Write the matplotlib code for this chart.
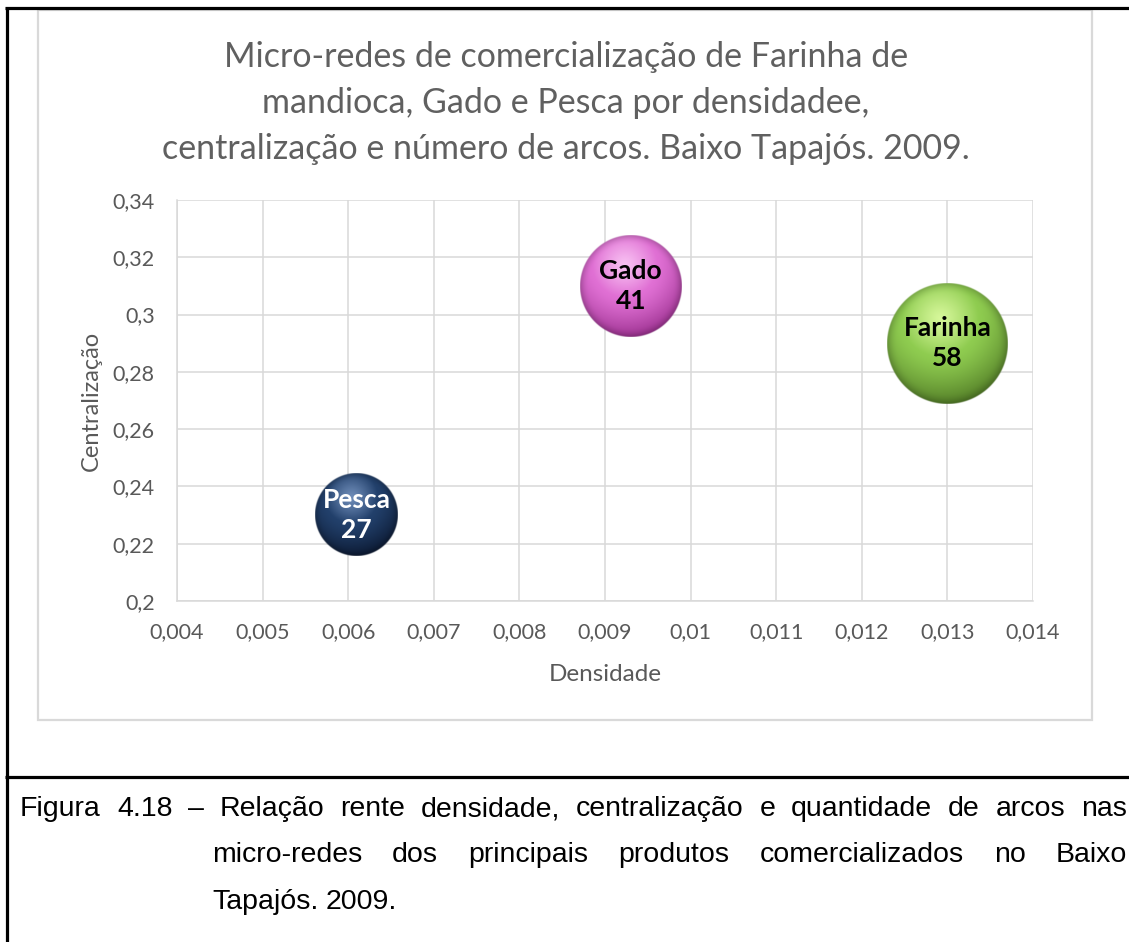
import numpy as np
import matplotlib
matplotlib.use("Agg")
import matplotlib.pyplot as plt
from matplotlib.lines import Line2D
from matplotlib.patches import Rectangle
from matplotlib import font_manager

# ---- data -------------------------------------------------------------
produtos = ["Pesca", "Gado", "Farinha"]
densidade = [0.0061, 0.0093, 0.0130]
centralizacao = [0.23, 0.31, 0.29]
arcos = [27, 41, 58]

x_ticks = [0.004, 0.005, 0.006, 0.007, 0.008, 0.009, 0.010, 0.011, 0.012, 0.013, 0.014]
x_tick_labels = ["0,004", "0,005", "0,006", "0,007", "0,008", "0,009", "0,01",
                 "0,011", "0,012", "0,013", "0,014"]
y_ticks = [0.20, 0.22, 0.24, 0.26, 0.28, 0.30, 0.32, 0.34]
y_tick_labels = ["0,2", "0,22", "0,24", "0,26", "0,28", "0,3", "0,32", "0,34"]

title_lines = [
    "Micro-redes de comercialização de Farinha de",
    "mandioca, Gado e Pesca por densidadee,",
    "centralização e número de arcos. Baixo Tapajós. 2009.",
]
x_label = "Densidade"
y_label = "Centralização"

caption_lines = [
    "Figura 4.18 – Relação rente densidade, centralização e quantidade de arcos nas",
    "micro-redes dos principais produtos comercializados no Baixo",
    "Tapajós. 2009.",
]

# ---- style ------------------------------------------------------------
W, H = 1129, 942
GRID = "#D9D9D9"
TXT = "#595959"
UI_FONT = ["Lato", "Open Sans", "DejaVu Sans"]


def pick_font(*names):
    for n in names:
        try:
            font_manager.findfont(n, fallback_to_default=False)
            return n
        except Exception:
            continue
    return "DejaVu Sans"


CAPTION_FONT = pick_font("Liberation Sans Narrow", "Liberation Sans")

# base, highlight and shadow colours of each bubble
bubble_colors = {
    "Pesca": ("#22406B", "#6E8CB8", "#0C1A33"),
    "Gado": ("#E070D4", "#F8C0F2", "#9E3392"),
    "Farinha": ("#8FCC50", "#D6F79A", "#547F28"),
}
label_colors = {"Pesca": "white", "Gado": "black", "Farinha": "black"}
MAX_DIAM_PX = 121.0

fig = plt.figure(figsize=(W / 100, H / 100), dpi=100)
fig.patch.set_facecolor("white")


def px(x, y):
    return x / W, 1 - y / H


# page frame lines
frame_kw = dict(color="black", lw=2.3, transform=fig.transFigure, solid_capstyle="butt")
fig.add_artist(Line2D([px(5, 0)[0], 1], [px(0, 8)[1]] * 2, **frame_kw))
fig.add_artist(Line2D([px(7, 0)[0]] * 2, [px(0, 7)[1], 0], **frame_kw))
fig.add_artist(Line2D([px(5, 0)[0], 1], [px(0, 777)[1]] * 2, **frame_kw))

# chart area border
x0, y0 = px(38, 720)
x1, y1 = px(1092, 10)
fig.add_artist(Rectangle((x0, y0), x1 - x0, y1 - y0, transform=fig.transFigure,
                         fill=False, edgecolor=GRID, lw=1.6))

# plot axes
left, bottom = px(177, 601)
right, top = px(1033, 200)
ax = fig.add_axes([left, bottom, right - left, top - bottom])
ax.set_xlim(x_ticks[0], x_ticks[-1])
ax.set_ylim(y_ticks[0], y_ticks[-1])
ax.set_xticks(x_ticks)
ax.set_xticklabels(x_tick_labels)
ax.set_yticks(y_ticks)
ax.set_yticklabels(y_tick_labels)
ax.tick_params(length=0, labelsize=15.5, labelcolor=TXT)
ax.tick_params(axis="x", pad=15)
ax.tick_params(axis="y", pad=16)
for lab in ax.get_xticklabels() + ax.get_yticklabels():
    lab.set_family(UI_FONT)
ax.grid(True, color=GRID, lw=1.1)
ax.set_axisbelow(True)
for side, sp in ax.spines.items():
    sp.set_color(GRID)
    sp.set_linewidth(1.1)
ax.spines["top"].set_visible(False)
ax.spines["right"].set_visible(False)

ax.set_xlabel(x_label, fontsize=17.5, color=TXT, family=UI_FONT, labelpad=16)
ax.set_ylabel(y_label, fontsize=17, color=TXT, family=UI_FONT, labelpad=8)

# three-line chart title, one line every 46 px
for i, line in enumerate(title_lines):
    fig.text(px(566, 0)[0], px(0, 57 + 46 * i)[1], line, ha="center", va="center",
             fontsize=24.5, color="#606060", family=UI_FONT)

# ---- shaded bubbles ----------------------------------------------------
fig.canvas.draw()
bb = ax.get_window_extent()
px_per_x = bb.width / (x_ticks[-1] - x_ticks[0])
px_per_y = bb.height / (y_ticks[-1] - y_ticks[0])


def hex_rgb(h):
    return np.array(matplotlib.colors.to_rgb(h))


def sphere_image(base, light, dark, radius_px, n=400):
    base, light, dark = hex_rgb(base), hex_rgb(light), hex_rgb(dark)
    g = np.linspace(-1, 1, n)
    u, v = np.meshgrid(g, g)
    r = np.sqrt(u ** 2 + v ** 2)
    hx, hy = -0.12, 0.42
    d = np.sqrt((u - hx) ** 2 + (v - hy) ** 2) / 1.42
    d = np.clip(d, 0, 1)
    t1 = np.clip(d / 0.45, 0, 1)[..., None]
    t2 = np.clip((d - 0.45) / 0.55, 0, 1)[..., None]
    col = np.where(d[..., None] < 0.45,
                   light + (base - light) * t1 ** 1.2,
                   base + (dark - base) * t2 ** 1.3)
    rim = np.clip((r - 0.82) / 0.18, 0, 1)[..., None]
    col = col * (1 - 0.2 * rim ** 2)
    alpha = np.clip((1 - r) * radius_px + 0.5, 0, 1)
    return np.dstack([np.clip(col, 0, 1), alpha])


for name, xv, yv, s in zip(produtos, densidade, centralizacao, arcos):
    r_px = 0.5 * MAX_DIAM_PX * np.sqrt(s / max(arcos))
    rx = r_px / px_per_x
    ry = r_px / px_per_y
    base, light, dark = bubble_colors[name]
    img = sphere_image(base, light, dark, r_px)
    ax.imshow(img, extent=[xv - rx, xv + rx, yv - ry, yv + ry], origin="lower",
              interpolation="bilinear", aspect="auto", zorder=3)
    ax.text(xv, yv, f"{name}\n{s}", ha="center", va="center", fontsize=19,
            fontweight="bold", color=label_colors[name], family=UI_FONT,
            linespacing=1.3, zorder=4)

ax.set_xlim(x_ticks[0], x_ticks[-1])
ax.set_ylim(y_ticks[0], y_ticks[-1])

# ---- caption (justified) ---------------------------------------------
renderer = fig.canvas.get_renderer()
cap_kw = dict(fontsize=20.5, color="black", family=CAPTION_FONT,
              va="baseline", ha="left")


def word_width(word):
    t = fig.text(0, 0, word, **cap_kw)
    w = t.get_window_extent(renderer).width
    t.remove()
    return w


def draw_line(text, x_start, x_end, y, justify):
    words = text.split(" ")
    widths = [word_width(w) for w in words]
    if justify and len(words) > 1:
        gap = (x_end - x_start - sum(widths)) / (len(words) - 1)
    else:
        gap = word_width("a b") - word_width("ab")
    x = x_start
    for w, wd in zip(words, widths):
        fig.text(*px(round(x), y), w, **cap_kw)
        x += wd + gap


draw_line(caption_lines[0], 20, 1127, 816, True)
draw_line(caption_lines[1], 212, 1127, 862, True)
draw_line(caption_lines[2], 212, 1127, 909, False)

fig.savefig("out.png", dpi=100, facecolor="white")
